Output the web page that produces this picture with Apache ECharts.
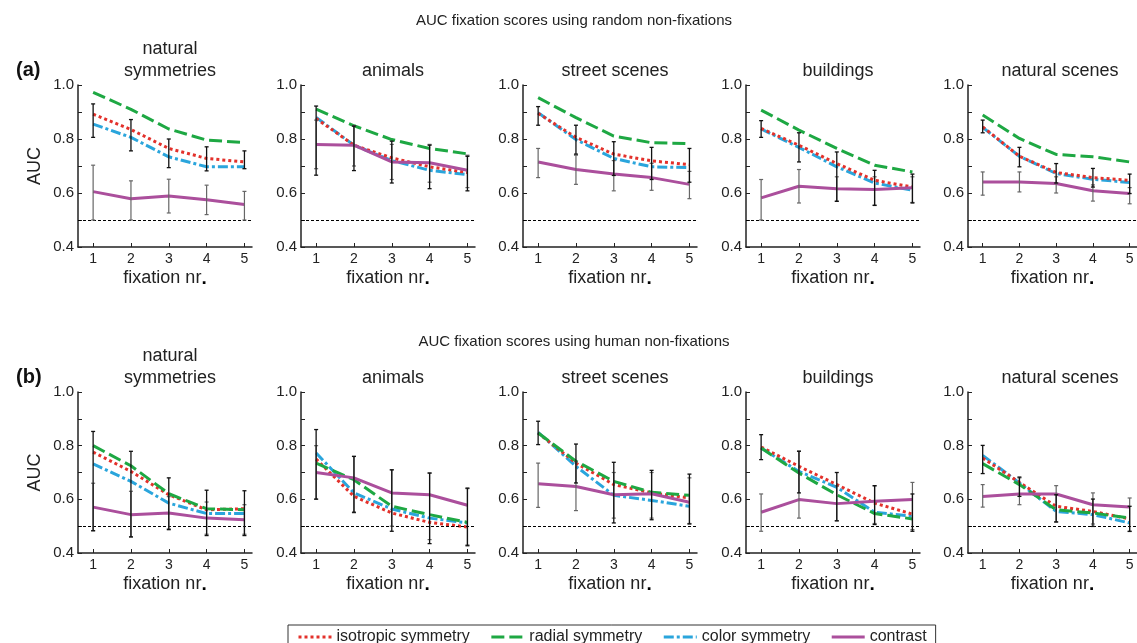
<!DOCTYPE html>
<html>
<head>
<meta charset="utf-8">
<script src="https://cdn.jsdelivr.net/npm/echarts@6/dist/echarts.min.js"></script>
<style>
  html, body { margin: 0; padding: 0; background: #fff; }
  #chart { width: 1137px; height: 643px; }
</style>
</head>
<body>
<div id="chart"></div>
<script>
// panels and axes
const panels = ['natural\nsymmetries', 'animals', 'street scenes', 'buildings', 'natural scenes'];
const fixations = [1, 2, 3, 4, 5];
const chanceLevel = 0.5;

// (a) random non-fixations, one row per panel
const isotropicRandom = [
  [0.892, 0.835, 0.765, 0.728, 0.715],
  [0.876, 0.777, 0.730, 0.697, 0.676],
  [0.895, 0.806, 0.744, 0.719, 0.705],
  [0.839, 0.777, 0.709, 0.647, 0.622],
  [0.845, 0.736, 0.676, 0.657, 0.647]
];
const radialRandom = [
  [0.973, 0.910, 0.837, 0.796, 0.787],
  [0.911, 0.849, 0.798, 0.765, 0.745],
  [0.953, 0.879, 0.811, 0.786, 0.783],
  [0.907, 0.833, 0.765, 0.703, 0.678],
  [0.889, 0.802, 0.743, 0.734, 0.715]
];
const colorRandom = [
  [0.855, 0.806, 0.734, 0.697, 0.697],
  [0.880, 0.777, 0.720, 0.684, 0.668],
  [0.897, 0.798, 0.728, 0.697, 0.694],
  [0.837, 0.769, 0.697, 0.637, 0.610],
  [0.843, 0.736, 0.672, 0.651, 0.639]
];
const contrastRandom = [
  [0.605, 0.579, 0.589, 0.575, 0.557],
  [0.780, 0.777, 0.715, 0.712, 0.684],
  [0.715, 0.687, 0.670, 0.657, 0.632],
  [0.582, 0.625, 0.616, 0.613, 0.619],
  [0.641, 0.641, 0.635, 0.608, 0.598]
];
// error ranges: black = symmetry models, grey = contrast
const symLowRandom = [
  [0.806, 0.756, 0.694, 0.682, 0.690],
  [0.666, 0.683, 0.637, 0.616, 0.608],
  [0.851, 0.744, 0.665, 0.650, 0.640],
  [0.806, 0.715, 0.569, 0.554, 0.563],
  [0.823, 0.697, 0.637, 0.622, 0.598]
];
const symHighRandom = [
  [0.930, 0.872, 0.800, 0.771, 0.756],
  [0.922, 0.848, 0.792, 0.777, 0.736],
  [0.920, 0.851, 0.790, 0.769, 0.765],
  [0.868, 0.823, 0.752, 0.684, 0.670],
  [0.870, 0.769, 0.709, 0.691, 0.670]
];
const conLowRandom = [
  [0.500, 0.500, 0.526, 0.520, 0.500],
  [0.690, 0.700, 0.650, 0.640, 0.620],
  [0.657, 0.632, 0.608, 0.610, 0.579],
  [0.500, 0.563, 0.570, 0.555, 0.565],
  [0.592, 0.604, 0.600, 0.570, 0.560]
];
const conHighRandom = [
  [0.703, 0.645, 0.651, 0.629, 0.606],
  [0.870, 0.850, 0.780, 0.780, 0.740],
  [0.765, 0.740, 0.720, 0.710, 0.680],
  [0.650, 0.687, 0.660, 0.660, 0.660],
  [0.678, 0.678, 0.660, 0.630, 0.620]
];

// (b) human non-fixations
const isotropicHuman = [
  [0.776, 0.704, 0.617, 0.561, 0.565],
  [0.750, 0.611, 0.549, 0.514, 0.497],
  [0.847, 0.735, 0.655, 0.624, 0.605],
  [0.795, 0.723, 0.655, 0.586, 0.545],
  [0.754, 0.663, 0.574, 0.555, 0.527]
];
const radialHuman = [
  [0.800, 0.725, 0.621, 0.565, 0.561],
  [0.735, 0.673, 0.574, 0.543, 0.514],
  [0.847, 0.742, 0.667, 0.626, 0.615],
  [0.791, 0.698, 0.617, 0.547, 0.527],
  [0.733, 0.655, 0.561, 0.549, 0.530]
];
const colorHuman = [
  [0.732, 0.667, 0.586, 0.547, 0.547],
  [0.773, 0.624, 0.564, 0.530, 0.512],
  [0.850, 0.723, 0.615, 0.596, 0.574],
  [0.791, 0.704, 0.645, 0.552, 0.537],
  [0.764, 0.661, 0.555, 0.543, 0.512]
];
const contrastHuman = [
  [0.571, 0.543, 0.549, 0.530, 0.524],
  [0.700, 0.680, 0.624, 0.617, 0.578],
  [0.658, 0.648, 0.617, 0.621, 0.589],
  [0.552, 0.599, 0.584, 0.593, 0.599],
  [0.611, 0.620, 0.620, 0.580, 0.571]
];
const symLowHuman = [
  [0.483, 0.460, 0.487, 0.465, 0.465],
  [0.601, 0.552, 0.481, 0.435, 0.427],
  [0.804, 0.661, 0.512, 0.524, 0.508],
  [0.748, 0.624, 0.520, 0.506, 0.481],
  [0.696, 0.611, 0.516, 0.499, 0.481]
];
const symHighHuman = [
  [0.853, 0.779, 0.680, 0.634, 0.632],
  [0.860, 0.760, 0.710, 0.698, 0.642],
  [0.891, 0.806, 0.738, 0.708, 0.694],
  [0.841, 0.779, 0.700, 0.651, 0.620],
  [0.801, 0.683, 0.617, 0.601, 0.574]
];
const conLowHuman = [
  [0.483, 0.460, 0.490, 0.470, 0.470],
  [0.600, 0.550, 0.500, 0.450, 0.430],
  [0.570, 0.558, 0.530, 0.530, 0.510],
  [0.481, 0.530, 0.520, 0.510, 0.487],
  [0.571, 0.580, 0.515, 0.508, 0.480]
];
const conHighHuman = [
  [0.660, 0.630, 0.610, 0.590, 0.580],
  [0.800, 0.760, 0.710, 0.698, 0.640],
  [0.735, 0.740, 0.700, 0.700, 0.680],
  [0.620, 0.780, 0.650, 0.650, 0.663],
  [0.655, 0.680, 0.651, 0.624, 0.605]
];

const FONT = '"Liberation Sans", Arial, sans-serif';
const gridLefts = [78, 301, 523, 746, 968];
const gridWidth = 174;

const rows = [
  { title: 'AUC fixation scores using random non-fixations', tag: '(a)', top: 85, height: 162, titleTop: 8,
    iso: isotropicRandom, rad: radialRandom, col: colorRandom, con: contrastRandom,
    symLo: symLowRandom, symHi: symHighRandom, conLo: conLowRandom, conHi: conHighRandom },
  { title: 'AUC fixation scores using human non-fixations', tag: '(b)', top: 392, height: 161, titleTop: 329,
    iso: isotropicHuman, rad: radialHuman, col: colorHuman, con: contrastHuman,
    symLo: symLowHuman, symHi: symHighHuman, conLo: conLowHuman, conHi: conHighHuman }
];

const lineDefs = [
  { key: 'col', name: 'color symmetry', color: '#2aa5dc', type: [10, 3, 3, 3] },
  { key: 'iso', name: 'isotropic symmetry', color: '#e3312b', type: [3, 3] },
  { key: 'rad', name: 'radial symmetry', color: '#1ea843', type: [13, 5] },
  { key: 'con', name: 'contrast', color: '#ab4f9c', type: 'solid' }
];

function errorBars(color, width) {
  return function (params, api) {
    const x = api.value(0);
    const lo = api.coord([x, api.value(1)]);
    const hi = api.coord([x, api.value(2)]);
    const style = { stroke: color, lineWidth: width };
    return {
      type: 'group',
      children: [
        { type: 'line', shape: { x1: lo[0], y1: lo[1], x2: hi[0], y2: hi[1] }, style },
        { type: 'line', shape: { x1: lo[0] - 2, y1: lo[1], x2: lo[0] + 2, y2: lo[1] }, style },
        { type: 'line', shape: { x1: hi[0] - 2, y1: hi[1], x2: hi[0] + 2, y2: hi[1] }, style }
      ]
    };
  };
}

const grid = [], xAxis = [], yAxis = [], series = [], title = [];

rows.forEach((row, r) => {
  title.push({
    text: row.title, left: 569, top: row.titleTop, textAlign: 'center',
    textStyle: { fontFamily: FONT, fontSize: 15, fontWeight: 'normal', color: '#222' }
  });
  title.push({
    text: row.tag, left: 11, top: row.top - 30,
    textStyle: { fontFamily: FONT, fontSize: 20, fontWeight: 'bold', color: '#111' }
  });

  panels.forEach((panel, p) => {
    const g = r * 5 + p;
    const twoLine = panel.indexOf('\n') >= 0;
    title.push({
      text: panel, left: gridLefts[p] + gridWidth / 2, textAlign: 'center',
      top: row.top - (twoLine ? 52 : 30),
      textStyle: { fontFamily: FONT, fontSize: 18, fontWeight: 'normal', color: '#222', lineHeight: 22 }
    });

    grid.push({ left: gridLefts[p], top: row.top, width: gridWidth, height: row.height });

    xAxis.push({
      type: 'value', gridIndex: g, min: 0.6, max: 5.2,
      name: '{a|fixation nr}{b|.}', nameLocation: 'middle', nameGap: 22,
      nameTextStyle: {
        rich: {
          a: { fontFamily: FONT, fontSize: 18, color: '#222' },
          b: { fontFamily: FONT, fontSize: 19, fontWeight: 'bold', color: '#000' }
        }
      },
      axisLine: { show: true, onZero: false, lineStyle: { color: '#222', width: 1.5 } },
      axisTick: { show: true, inside: true, length: 4, customValues: fixations, lineStyle: { color: '#222' } },
      axisLabel: { customValues: fixations, margin: 5, fontFamily: FONT, fontSize: 14, color: '#222' },
      splitLine: { show: false }
    });

    yAxis.push({
      type: 'value', gridIndex: g, min: 0.4, max: 1.0, interval: 0.2,
      name: p === 0 ? 'AUC' : '', nameLocation: 'middle', nameGap: 34,
      nameTextStyle: { fontFamily: FONT, fontSize: 18, color: '#222' },
      axisLine: { show: true, onZero: false, lineStyle: { color: '#222', width: 1.5 } },
      axisTick: { show: true, inside: true, length: 4, lineStyle: { color: '#222' } },
      minorTick: { show: true, splitNumber: 2, length: 4, lineStyle: { color: '#222' } },
      axisLabel: { margin: 4, fontFamily: FONT, fontSize: 15, color: '#222', formatter: v => v.toFixed(1) },
      splitLine: { show: false }
    });

    lineDefs.forEach((d, k) => {
      const s = {
        name: d.name, type: 'line', xAxisIndex: g, yAxisIndex: g,
        data: fixations.map((f, i) => [f, row[d.key][p][i]]),
        symbol: 'none', silent: true, animation: false, z: 2 + k,
        lineStyle: { color: d.color, width: 3, type: d.type, cap: 'butt' },
        itemStyle: { color: d.color }
      };
      if (d.key === 'con') {
        s.markLine = {
          silent: true, symbol: ['none', 'none'], label: { show: false },
          lineStyle: { color: '#000', width: 1, type: [3, 2] },
          data: [{ yAxis: chanceLevel }]
        };
      }
      series.push(s);
    });

    series.push({
      name: 'contrast error', type: 'custom', xAxisIndex: g, yAxisIndex: g, silent: true, z: 7,
      renderItem: errorBars('#666', 1.2),
      encode: { x: 0, y: [1, 2] },
      data: fixations.map((f, i) => [f, row.conLo[p][i], row.conHi[p][i]])
    });
    series.push({
      name: 'symmetry error', type: 'custom', xAxisIndex: g, yAxisIndex: g, silent: true, z: 8,
      renderItem: errorBars('#111', 1.3),
      encode: { x: 0, y: [1, 2] },
      data: fixations.map((f, i) => [f, row.symLo[p][i], row.symHi[p][i]])
    });
  });
});

const chart = echarts.init(document.getElementById('chart'));
chart.setOption({
  backgroundColor: '#fff',
  animation: false,
  title,
  grid,
  xAxis,
  yAxis,
  series,
  legend: {
    data: ['isotropic symmetry', 'radial symmetry', 'color symmetry', 'contrast'],
    left: 288, top: 625,
    padding: [4, 9, 6, 9],
    itemWidth: 33, itemHeight: 12, itemGap: 20,
    itemStyle: { opacity: 0 },
    lineStyle: { width: 3 },
    borderColor: '#333', borderWidth: 1,
    textStyle: { fontFamily: FONT, fontSize: 16, color: '#222' }
  }
});
</script>
</body>
</html>
